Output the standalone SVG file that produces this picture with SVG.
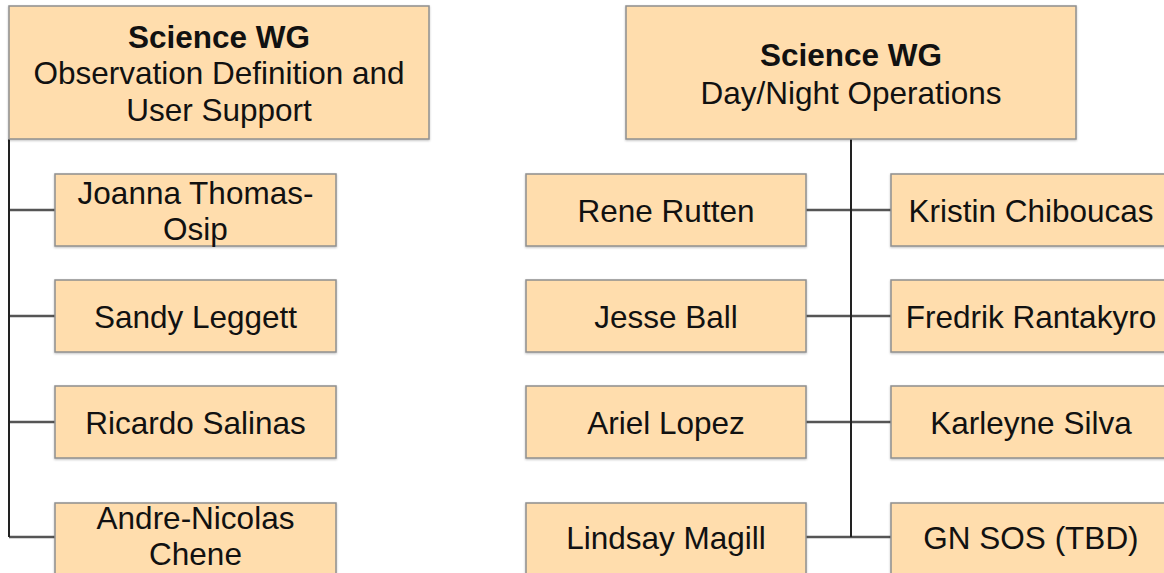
<svg xmlns="http://www.w3.org/2000/svg" width="1164" height="573" viewBox="0 0 1164 573">
<defs>
<style>
.box{fill:#FFDDAD;stroke:#8f8f8f;stroke-width:1.5;filter:url(#sh)}
.t{font-family:"Liberation Sans",Arial,Helvetica,sans-serif;font-size:31.5px;fill:#111;text-anchor:middle}
.b{font-weight:bold}
.br{stroke:#555;stroke-width:2.5;fill:none}
.tr{stroke:#222;stroke-width:2;fill:none}
</style>
<filter id="sh" x="-5%" y="-5%" width="110%" height="115%">
<feDropShadow dx="0" dy="1" stdDeviation="1" flood-color="#000" flood-opacity="0.25"/>
</filter>
</defs>
<rect width="1164" height="573" fill="#fff"/>
<g id="connectors">
<path class="br" d="M9 210H55M9 316H55M9 422H55M9 537H55"/>
<path class="tr" d="M9 139V537"/>
<path class="br" d="M806 210H891M806 316H891M806 422H891M806 537H891"/>
<path class="tr" d="M851 139V537"/>
</g>
<g id="parent-odus">
<rect class="box" x="9" y="6" width="420" height="133"/>
<text class="t b" x="219" y="47.5">Science WG</text>
<text class="t" x="219" y="84">Observation Definition and</text>
<text class="t" x="219" y="121">User Support</text>
</g>
<g id="joanna">
<rect class="box" x="55" y="174" width="281" height="72"/>
<text class="t" x="195.5" y="203.5">Joanna Thomas-</text>
<text class="t" x="195.5" y="239.5">Osip</text>
</g>
<g id="sandy">
<rect class="box" x="55" y="280" width="281" height="72"/>
<text class="t" x="195.5" y="327.5">Sandy Leggett</text>
</g>
<g id="ricardo">
<rect class="box" x="55" y="386" width="281" height="72"/>
<text class="t" x="195.5" y="433.5">Ricardo Salinas</text>
</g>
<g id="andre">
<rect class="box" x="55" y="503" width="281" height="72"/>
<text class="t" x="195.5" y="528.5">Andre-Nicolas</text>
<text class="t" x="195.5" y="565">Chene</text>
</g>
<g id="parent-ops">
<rect class="box" x="626" y="6" width="450" height="133"/>
<text class="t b" x="851" y="66">Science WG</text>
<text class="t" x="851" y="104">Day/Night Operations</text>
</g>
<g id="rene">
<rect class="box" x="526" y="174" width="280" height="72"/>
<text class="t" x="666" y="221.5">Rene Rutten</text>
</g>
<g id="jesse">
<rect class="box" x="526" y="280" width="280" height="72"/>
<text class="t" x="666" y="327.5">Jesse Ball</text>
</g>
<g id="ariel">
<rect class="box" x="526" y="386" width="280" height="72"/>
<text class="t" x="666" y="433.5">Ariel Lopez</text>
</g>
<g id="lindsay">
<rect class="box" x="526" y="503" width="280" height="72"/>
<text class="t" x="666" y="549">Lindsay Magill</text>
</g>
<g id="kristin">
<rect class="box" x="891" y="174" width="280" height="72"/>
<text class="t" x="1031" y="221.5">Kristin Chiboucas</text>
</g>
<g id="fredrik">
<rect class="box" x="891" y="280" width="280" height="72"/>
<text class="t" x="1031" y="327.5">Fredrik Rantakyro</text>
</g>
<g id="karleyne">
<rect class="box" x="891" y="386" width="280" height="72"/>
<text class="t" x="1031" y="433.5">Karleyne Silva</text>
</g>
<g id="gnsos">
<rect class="box" x="891" y="503" width="280" height="72"/>
<text class="t" x="1031" y="549">GN SOS (TBD)</text>
</g>
</svg>
